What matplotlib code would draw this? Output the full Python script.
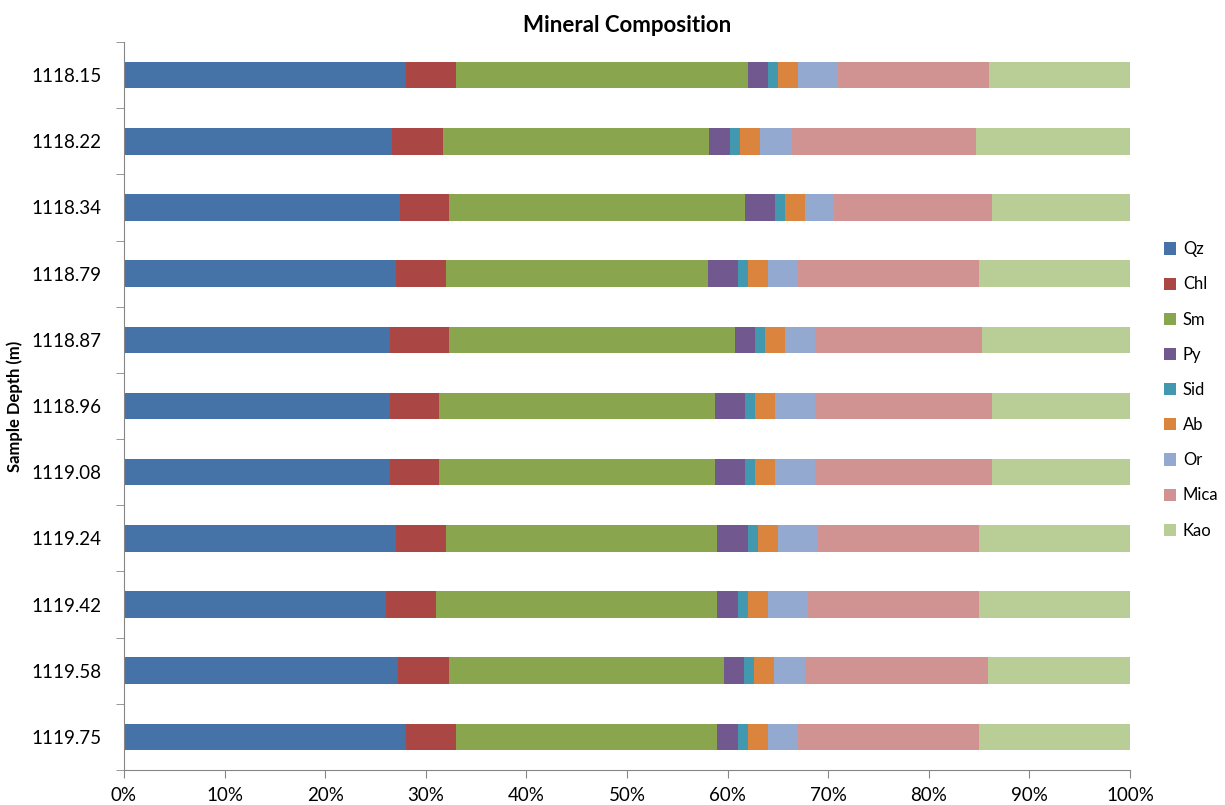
import matplotlib.pyplot as plt
import numpy as np

plt.rcParams['font.family'] = ['Lato', 'DejaVu Sans']

depths = ['1118.15', '1118.22', '1118.34', '1118.79', '1118.87', '1118.96',
          '1119.08', '1119.24', '1119.42', '1119.58', '1119.75']
minerals = ['Qz', 'Chl', 'Sm', 'Py', 'Sid', 'Ab', 'Or', 'Mica', 'Kao']

# percent of each mineral per sample (rows follow depths)
qz = [28.0, 26.6, 27.4, 27.0, 26.4, 26.4, 26.4, 27.0, 26.0, 27.2, 28.0]
chl = [5.0, 5.1, 4.9, 5.0, 5.9, 4.9, 4.9, 5.0, 5.0, 5.1, 5.0]
sm = [29.0, 26.5, 29.4, 26.1, 28.4, 27.5, 27.5, 27.0, 28.0, 27.3, 26.0]
py = [2.0, 2.0, 3.0, 2.9, 2.0, 2.9, 2.9, 3.0, 2.0, 2.0, 2.0]
sid = [1.0, 1.0, 1.0, 1.0, 1.0, 1.0, 1.0, 1.0, 1.0, 1.0, 1.0]
ab = [2.0, 2.0, 2.0, 2.0, 2.0, 2.0, 2.0, 2.0, 2.0, 2.0, 2.0]
orth = [4.0, 3.2, 2.9, 3.0, 3.0, 4.0, 4.0, 4.0, 4.0, 3.1, 3.0]
mica = [15.0, 18.3, 15.7, 18.0, 16.6, 17.6, 17.6, 16.0, 17.0, 18.2, 18.0]
kao = [14.0, 15.3, 13.7, 15.0, 14.7, 13.7, 13.7, 15.0, 15.0, 14.1, 15.0]

colors = ['#4572A7', '#AA4643', '#89A54E', '#71588F', '#4198AF',
          '#DB843D', '#93A9CF', '#D19392', '#B9CD96']

data = np.array([qz, chl, sm, py, sid, ab, orth, mica, kao])
shares = data / data.sum(axis=0) * 100

fig = plt.figure(figsize=(12.25, 8.05), dpi=100)
ax = fig.add_axes([0.1012, 0.0435, 0.8212, 0.9043])

y = np.arange(len(depths))
left = np.zeros(len(depths))
for name, vals, col in zip(minerals, shares, colors):
    ax.barh(y, vals, left=left, height=0.4, color=col, label=name)
    left += vals

ax.set_xlim(0, 100)
ax.set_ylim(len(depths) - 0.5, -0.5)
ax.set_xticks(np.arange(0, 101, 10))
ax.set_xticklabels([f'{v}%' for v in range(0, 101, 10)], fontsize=13.5)
ax.set_yticks(y)
ax.set_yticklabels(depths, fontsize=13.5)
ax.set_yticks(np.arange(-0.5, len(depths), 1), minor=True)
ax.tick_params(axis='y', which='major', length=0, pad=16)
ax.tick_params(axis='y', which='minor', length=6, color='#868686', direction='out')
ax.tick_params(axis='x', length=6, color='#868686', direction='out', pad=6)

for s in ['top', 'right']:
    ax.spines[s].set_visible(False)
for s in ['left', 'bottom']:
    ax.spines[s].set_color('#868686')

ax.set_ylabel('Sample Depth (m)', fontsize=12, fontweight='bold', labelpad=6)
ax.set_title('Mineral Composition', fontsize=16, fontweight='bold', pad=7)

ax.legend(loc='center left', bbox_to_anchor=(1.022, 0.522), frameon=False,
          fontsize=12, handlelength=0.75, handleheight=0.75,
          labelspacing=1.15, handletextpad=0.4, borderaxespad=0.3)

fig.savefig('out.png', dpi=100)
